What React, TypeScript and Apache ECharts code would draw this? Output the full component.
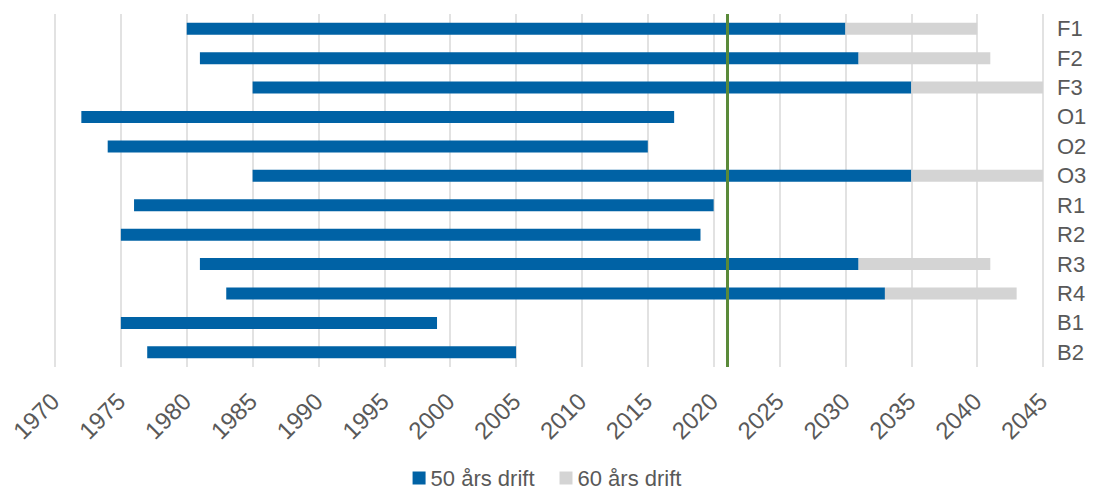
import React, { useEffect, useRef } from "react";
import * as echarts from "echarts";

const categories = ["F1", "F2", "F3", "O1", "O2", "O3", "R1", "R2", "R3", "R4", "B1", "B2"];
const startYears = [1980, 1981, 1985, 1972, 1974, 1985, 1976, 1975, 1981, 1983, 1975, 1977];
const end50Years = [2030, 2031, 2035, 2017, 2015, 2035, 2020, 2019, 2031, 2033, 1999, 2005];
const end60Years: (number | null)[] = [2040, 2041, 2045, null, null, 2045, null, null, 2041, 2043, null, null];
const currentYear = 2021;
const xMin = 1970;
const xMax = 2045;
const xInterval = 5;
const seriesNames = ["50 års drift", "60 års drift"];

const BLUE = "#0062A5";
const GREY = "#D4D4D4";
const GREEN = "#5A8A3A";
const TEXT = "#595959";
const FONT = "'Liberation Sans', Arial, sans-serif";

export default function App() {
  const ref = useRef<HTMLDivElement>(null);
  useEffect(() => {
    if (!ref.current) return;
    const chart = echarts.init(ref.current, undefined, { renderer: "svg" });
    const offset = startYears;
    const blue = end50Years.map((e, i) => e - startYears[i]);
    const grey = end60Years.map((e, i) => (e == null ? null : e - end50Years[i]));
    chart.setOption({
      animation: false,
      textStyle: { fontFamily: FONT },
      grid: { left: 55, right: 51, top: 14, bottom: 122, containLabel: false },
      legend: {
        top: 467,
        left: "center",
        padding: 0,
        icon: "rect",
        itemWidth: 13,
        itemHeight: 13,
        itemGap: 25,
        itemTextGap: 6,
        textStyle: { fontSize: 22, lineHeight: 22, color: TEXT, fontFamily: FONT },
        data: seriesNames,
      },
      xAxis: {
        type: "value",
        min: xMin,
        max: xMax,
        interval: xInterval,
        axisLine: { show: false },
        axisTick: { show: false },
        splitLine: { show: true, lineStyle: { color: "#D9D9D9", width: 1.5 } },
        axisLabel: {
          rotate: 45,
          fontSize: 24,
          color: TEXT,
          margin: 30,
          fontFamily: FONT,
          formatter: (v: number) => String(v),
        },
      },
      yAxis: {
        type: "category",
        data: categories,
        inverse: true,
        position: "right",
        axisLine: { show: false },
        axisTick: { show: false },
        splitLine: { show: false },
        axisLabel: { fontSize: 22, color: TEXT, margin: 14, fontFamily: FONT },
      },
      series: [
        {
          name: "offset",
          type: "bar",
          stack: "s",
          barWidth: 12,
          itemStyle: { color: "transparent" },
          data: offset,
          silent: true,
        },
        {
          name: seriesNames[0],
          type: "bar",
          stack: "s",
          barWidth: 12,
          itemStyle: { color: BLUE },
          data: blue,
          markLine: {
            symbol: "none",
            silent: true,
            label: { show: false },
            lineStyle: { color: GREEN, width: 3, type: "solid" },
            data: [{ xAxis: currentYear }],
          },
        },
        {
          name: seriesNames[1],
          type: "bar",
          stack: "s",
          barWidth: 12,
          itemStyle: { color: GREY },
          data: grey,
        },
      ],
    });
    return () => chart.dispose();
  }, []);
  return (
    <div
      ref={ref}
      style={{ position: "fixed", left: 0, top: 0, width: 1094, height: 489, background: "#fff" }}
    />
  );
}
